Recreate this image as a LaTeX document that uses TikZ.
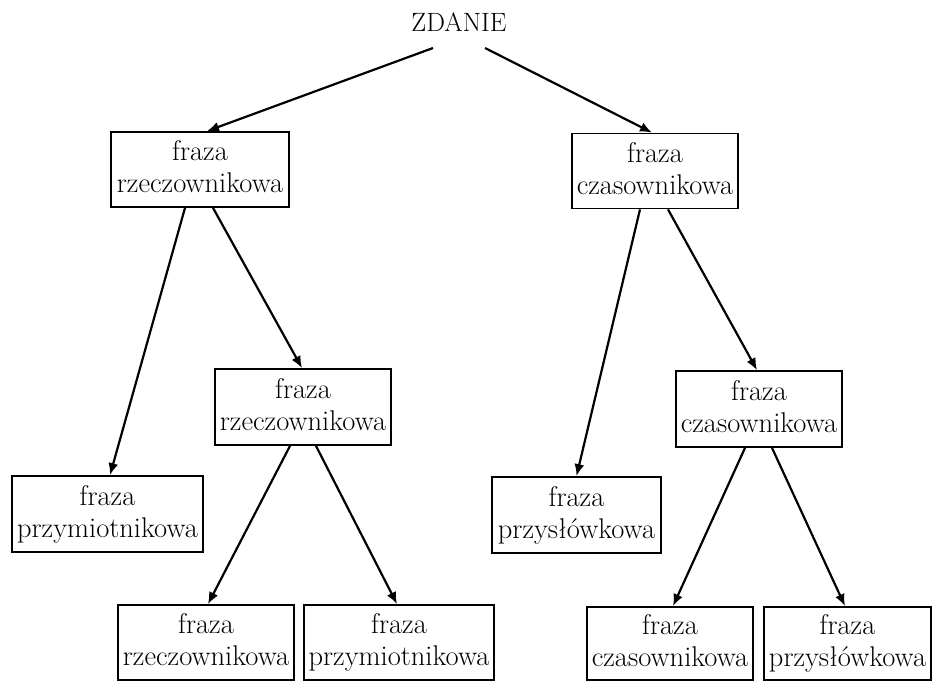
\documentclass[tikz,border=0pt]{standalone}
\usepackage{fontspec}
\usetikzlibrary{arrows.meta}
\newcommand{\dpfix}{\vphantom{p}}
\begin{document}
\begin{tikzpicture}[x=1pt,y=-1pt,
  every node/.style={font=\fontsize{28.5}{32}\selectfont},
  phrase/.style={draw, line width=1.8pt, align=center, inner sep=0pt, minimum height=75pt},
  link/.style={line width=2.2pt, -{Latex[length=12pt,width=10pt]}}]
\useasboundingbox (0,0) rectangle (936,682);
\node[inner sep=0pt, font=\fontsize{26.5}{30}\selectfont] (z) at (459,22.5) {ZDANIE};
\coordinate (zl) at (433,48);
\coordinate (zr) at (485,48);
\node[phrase, minimum width=178pt] (r1) at (200,169.5) {fraza\\rzeczownikowa\dpfix};
\node[phrase, minimum width=166pt] (c1) at (655,171) {fraza\\czasownikowa\dpfix};
\node[phrase, minimum width=176pt, minimum height=76pt] (r2) at (303,407) {fraza\\rzeczownikowa\dpfix};
\node[phrase, minimum width=191pt, minimum height=76pt] (p1) at (107.5,514) {fraza\\przymiotnikowa};
\node[phrase, minimum width=169pt, minimum height=76pt] (s1) at (576.5,515) {fraza\\przysłówkowa};
\node[phrase, minimum width=166pt, minimum height=76pt] (c2) at (759,409) {fraza\\czasownikowa\dpfix};
\node[phrase, minimum width=176pt] (r3) at (206,642.5) {fraza\\rzeczownikowa\dpfix};
\node[phrase, minimum width=190pt] (p2) at (399,642.5) {fraza\\przymiotnikowa};
\node[phrase, minimum width=166pt, minimum height=73pt] (c3) at (670,643.5) {fraza\\czasownikowa\dpfix};
\node[phrase, minimum width=167pt, minimum height=73pt] (s2) at (847.5,643.5) {fraza\\przysłówkowa};
\draw[link] (zl) -- ([xshift=7pt]r1.north);
\draw[link] (zr) -- ([xshift=-3pt]c1.north);
\draw[link] ([xshift=-15pt]r1.south) -- ([xshift=2.5pt]p1.north);
\draw[link] ([xshift=13pt]r1.south) -- ([xshift=-1pt]r2.north);
\draw[link] ([xshift=-13pt]r2.south) -- ([xshift=2pt]r3.north);
\draw[link] ([xshift=13pt]r2.south) -- ([xshift=-2pt]p2.north);
\draw[link] ([xshift=-15pt]c1.south) -- (s1.north);
\draw[link] ([xshift=13pt]c1.south) -- ([xshift=-2pt]c2.north);
\draw[link] ([xshift=-14pt]c2.south) -- ([xshift=3pt]c3.north);
\draw[link] ([xshift=13pt]c2.south) -- ([xshift=-2.5pt]s2.north);
\end{tikzpicture}
\end{document}
